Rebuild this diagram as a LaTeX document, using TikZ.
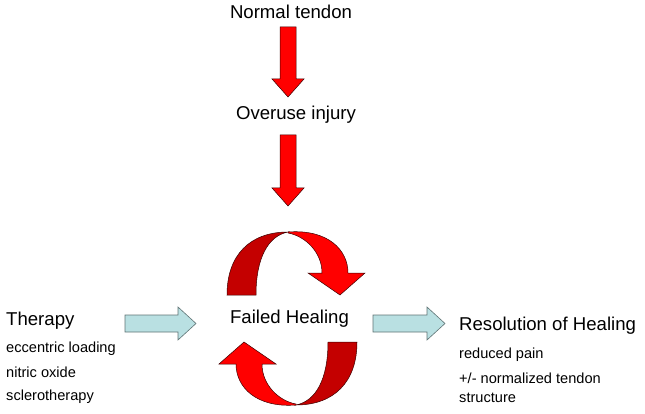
\documentclass[tikz,border=0pt]{standalone}
\usepackage{fontspec}
\setmainfont{Liberation Sans}
\definecolor{darkred}{HTML}{C40000}
\definecolor{brightred}{HTML}{FF0000}
\definecolor{edgered}{HTML}{3A0000}
\definecolor{paleblue}{HTML}{B9E0E2}
\definecolor{blueedge}{HTML}{5F7374}
\begin{document}
\begin{tikzpicture}[x=1pt,y=-1pt,
  big/.style={font=\fontsize{18.6}{22}\selectfont, inner sep=0pt, anchor=base},
  small/.style={font=\fontsize{14.6}{19}\selectfont, inner sep=0pt, anchor=base west},
  redarrow/.style={fill=brightred, draw=edgered, line width=0.5pt, line join=miter},
  darkband/.style={fill=darkred, draw=edgered, line width=0.5pt},
  blueblock/.style={fill=paleblue, draw=blueedge, line width=0.6pt}]
\useasboundingbox (0,0) rectangle (645,414);

% texts
\node[big] (normal) at (291,19) {Normal tendon};
\node[big] (overuse) at (296,120) {Overuse injury};
\node[big] (failed) at (289.5,323) {Failed Healing};
\node[big, anchor=base west] (therapy) at (6,325) {Therapy};
\node[small] (ecc) at (6,352) {eccentric loading};
\node[small] (nitric) at (6,377) {nitric oxide};
\node[small] (sclero) at (6,400) {sclerotherapy};
\node[big, anchor=base west] (resol) at (459,330) {Resolution of Healing};
\node[small] (pain) at (459,358) {reduced pain};
\node[small] (norm1) at (459,383) {+/- normalized tendon};
\node[small] (norm2) at (459,402) {structure};

% red down arrows
\path[redarrow] (280,27) -- (296,27) -- (296,79) -- (304,79) -- (288,97) -- (272,79) -- (280,79) -- cycle;
\path[redarrow] (280,135) -- (296,135) -- (296,188) -- (304,188) -- (288,206) -- (272,188) -- (280,188) -- cycle;

% blue block arrows
\path[blueblock] (125,315) -- (178,315) -- (178,307) -- (196,323.5) -- (178,340) -- (178,332) -- (125,332) -- cycle;
\path[blueblock] (373,315) -- (427,315) -- (427,307) -- (445,323.5) -- (427,340) -- (427,332) -- (373,332) -- cycle;

% circular arrows
\newcommand\cycarrow{%
  \path[darkband] (227,295) .. controls (227,255) and (250,232) .. (288,232)
     .. controls (268,236) and (256,258) .. (256,295) -- cycle;
  \path[redarrow] (288,232) .. controls (328,229) and (348,250) .. (348,273)
     -- (365,273) -- (340,295) -- (308,273) -- (322,273)
     .. controls (322,252) and (305,236) .. (288,233) -- cycle;
}
\cycarrow
\begin{scope}[rotate around={180:(292,318.5)}]
\cycarrow
\end{scope}
\end{tikzpicture}
\end{document}
